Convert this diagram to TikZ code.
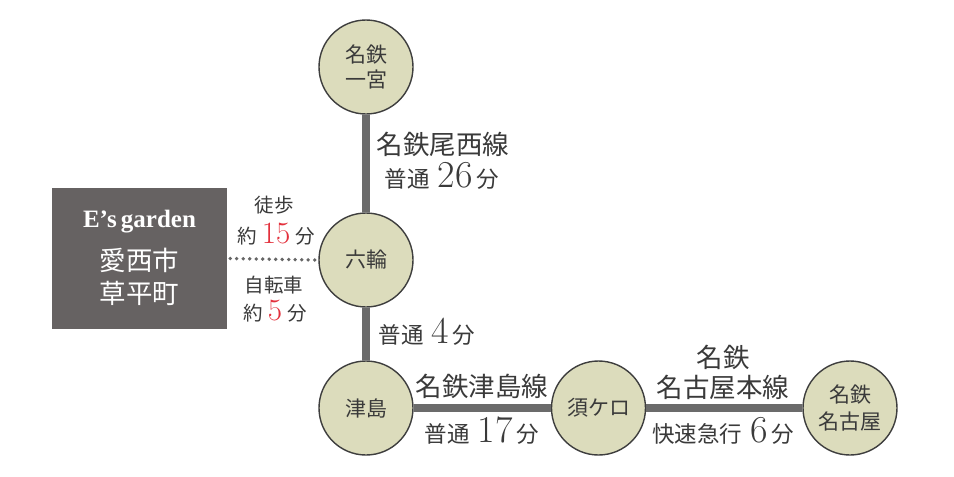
\documentclass[tikz,border=0pt]{standalone}
\usepackage{fontspec}
\newfontfamily\jp{Noto Sans CJK JP}
\newfontfamily\tnr{Liberation Serif}
\definecolor{stfill}{HTML}{DCDCBC}
\definecolor{stline}{HTML}{3E3E3E}
\definecolor{rail}{HTML}{6B6B6B}
\definecolor{homefill}{HTML}{666262}
\definecolor{txt}{HTML}{3A3A3A}
\definecolor{redn}{HTML}{E3303C}
\definecolor{dotc}{HTML}{666666}
\newcommand\bignum[1]{\smash{\rmfamily\fontsize{38}{38}\selectfont #1}}
\newcommand\midnum[1]{\smash{\rmfamily\fontsize{31}{31}\selectfont\color{redn}#1}}
\tikzset{
  station/.style={circle, minimum size=94, inner sep=0pt, draw=stline, line width=1.4pt,
    fill=stfill, text=txt, align=center, font=\jp\fontsize{21}{25}\selectfont},
  railline/.style={draw=rail, line width=7.5pt},
  walkline/.style={draw=dotc, line width=3.8pt, dash pattern=on 0pt off 6.5pt, line cap=round},
  linename/.style={text=txt, inner sep=0pt, align=center, font=\jp\fontsize{26.5}{30}\selectfont},
  timelbl/.style={text=txt, inner sep=0pt, anchor=base, font=\jp\fontsize{22.5}{26}\selectfont},
  smalllbl/.style={text=txt, inner sep=0pt, font=\jp\fontsize{19.5}{22}\selectfont},
  hometxt/.style={text=white, inner sep=0pt, font=\jp\fontsize{26.5}{30}\selectfont},
}
\begin{document}
\begin{tikzpicture}[x=1pt,y=-1pt]
\useasboundingbox (0,0) rectangle (954,477);
\fill[white] (0,0) rectangle (954,477);
% home box
\node[fill=homefill, minimum width=175, minimum height=141, inner sep=0pt] (home) at (139.5,258.5) {};
\node[text=white, inner sep=0pt, font=\tnr\bfseries\fontsize{25}{28}\selectfont] (hname) at (139.5,222) {E’s\,garden};
\node[hometxt] (hcity) at (139.5,260) {愛西市};
\node[hometxt] (htown) at (139.5,293) {草平町};
% stations
\node[station] (ichi) at (366,67) {名鉄\\一宮};
\node[station] (roku) at (366,260) {六輪};
\node[station] (tsu) at (366,408) {津島};
\node[station] (suka) at (598.5,408) {須ケロ};
\node[station, font=\jp\fontsize{21}{27.5}\selectfont] (nago) at (850,408) {名鉄\\名古屋};
% lines
\draw[railline] (ichi) -- (roku);
\draw[railline] (roku) -- (tsu);
\draw[railline] (tsu) -- (suka);
\draw[railline] (suka) -- (nago);
\draw[walkline] ([xshift=3pt]home.east) -- ([xshift=-2pt]roku.west);
% labels
\node[linename] (bisai) at (443,144) {名鉄尾西線};
\node[timelbl] (t26) at (442,187) {普通\hspace{8pt}\bignum{26}\hspace{4pt}分};
\node[timelbl] (t4) at (427,343) {普通\hspace{8pt}\bignum{4}\hspace{4pt}分};
\node[linename] (tsuline) at (482,386) {名鉄津島線};
\node[timelbl] (t17) at (482,442) {普通\hspace{8pt}\bignum{17}\hspace{4pt}分};
\node[linename] (meitetsu) at (723,357) {名鉄};
\node[linename] (honsen) at (723,387) {名古屋本線};
\node[timelbl] (t6) at (723,442) {快速急行\hspace{8pt}\bignum{6}\hspace{4pt}分};
\node[smalllbl] (toho) at (274,205) {徒歩};
\node[smalllbl, anchor=base] (w15) at (276,243) {約\hspace{5pt}\midnum{15}\hspace{5pt}分};
\node[smalllbl] (jiten) at (274,285) {自転車};
\node[smalllbl, anchor=base] (b5) at (275,320) {約\hspace{5pt}\midnum{5}\hspace{5pt}分};
\end{tikzpicture}
\end{document}
